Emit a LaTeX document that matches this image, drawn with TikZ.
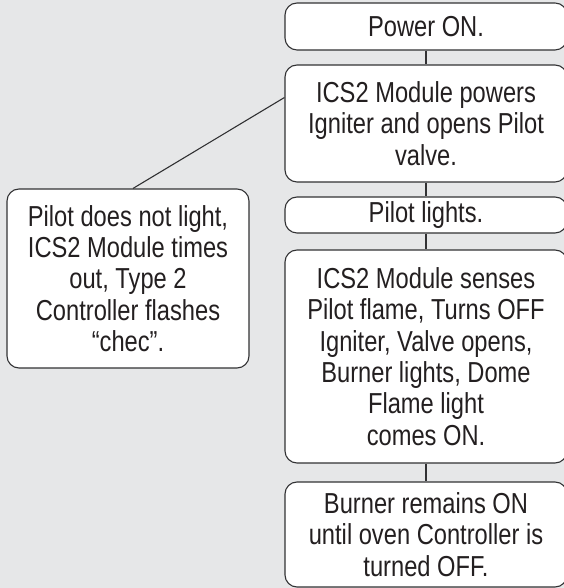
\documentclass[tikz,border=0pt]{standalone}
\usepackage{fontspec}
\setmainfont{Liberation Sans}[FakeStretch=0.82]
\definecolor{bggray}{RGB}{230,231,232}
\definecolor{edgegray}{RGB}{50,50,52}
\definecolor{inkgray}{RGB}{35,31,32}

\begin{document}
\begin{tikzpicture}[x=1bp, y=1bp,
    stepbox/.style={draw=edgegray, line width=1.1bp, fill=white, rounded corners=12bp,
        align=center, inner sep=0pt, text=inkgray,
        font=\fontsize{29}{31.5}\selectfont},
    mainbox/.style={stepbox, minimum width=282bp},
    link/.style={draw=edgegray, line width=1.1bp}]

        % page size and grey background
        \useasboundingbox (0,0) rectangle (564,588);
        \fill[bggray] (0,0) rectangle (564,588);

        % main sequence on the right
        \node[mainbox, minimum height=47bp] (power) at (426,561.5) {Power ON.};
        \node[mainbox, minimum height=117bp] (ignite) at (426,464.5) {ICS2 Module powers\\Igniter and opens Pilot\\valve.};
        \node[mainbox, minimum height=36bp] (lights) at (426,373) {Pilot lights.};
        \node[mainbox, minimum height=213bp] (senses) at (426,231.5) {ICS2 Module senses\\Pilot flame, Turns OFF\\Igniter, Valve opens,\\Burner lights, Dome\\Flame light\\comes ON.};
        \node[mainbox, minimum height=105bp] (remains) at (426,53.5) {Burner remains ON\\until oven Controller is\\turned OFF.};

        % failure branch on the left
        \node[stepbox, minimum width=242bp, minimum height=179bp] (fail) at (128,309.5) {Pilot does not light,\\ICS2 Module times\\out, Type 2\\Controller flashes\\“chec”.};

        % connectors
        \draw[link] (power) -- (ignite);
        \draw[link] (ignite) -- (lights);
        \draw[link] (lights) -- (senses);
        \draw[link] (senses) -- (remains);
        \draw[link] ([xshift=5bp]fail.north) -- ([yshift=26bp]ignite.west);

\end{tikzpicture}
\end{document}
